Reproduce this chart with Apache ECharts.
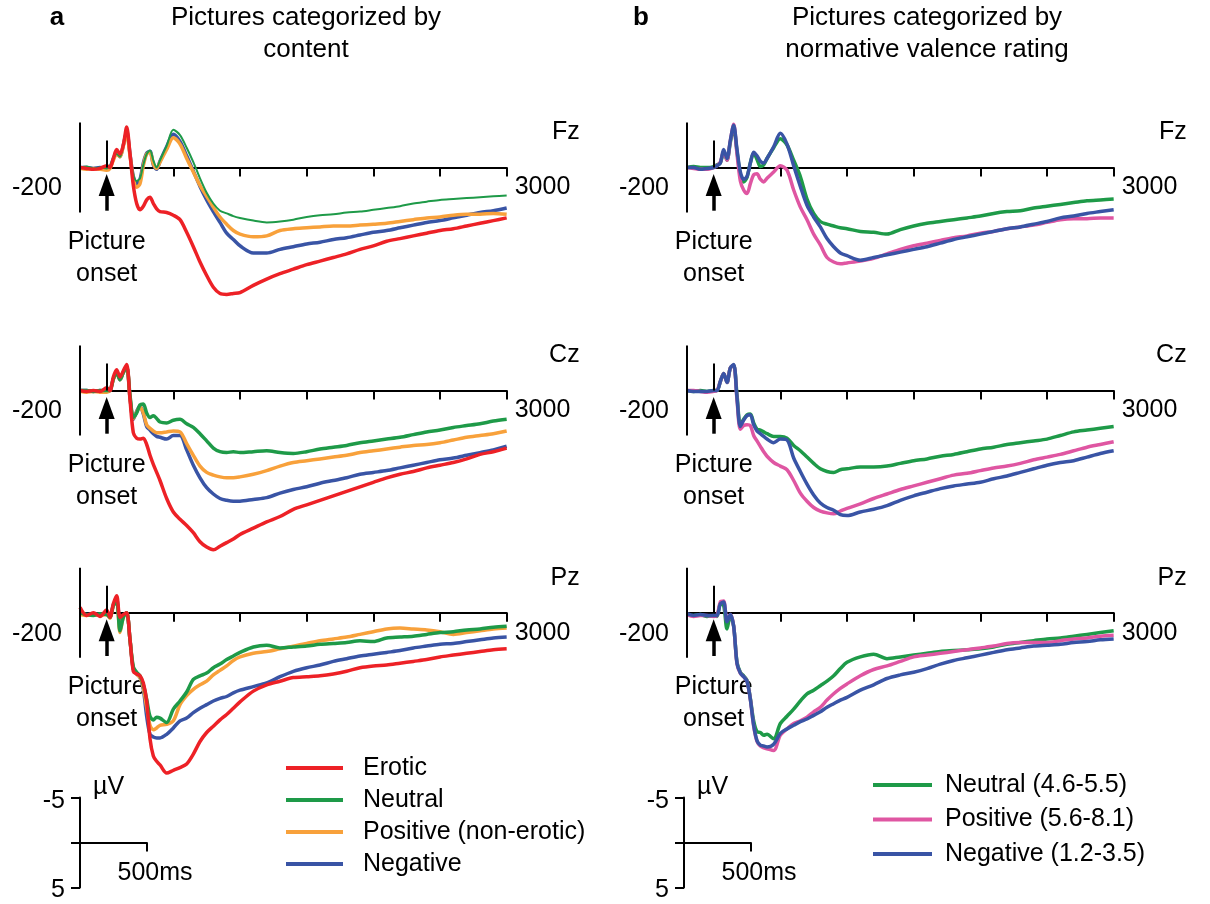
<!DOCTYPE html>
<html>
<head>
<meta charset="utf-8">
<script src="https://cdn.jsdelivr.net/npm/echarts@6/dist/echarts.min.js"></script>
<style>
  html, body { margin: 0; padding: 0; background: #fff; }
  #main { width: 1210px; height: 904px; }
</style>
</head>
<body>
<div id="main"></div>
<script>
var myChart = echarts.init(document.getElementById('main'))

// time axis (ms), shared by every curve
var times = [-200, -150, -100, -50, 0,
  25, 50, 75, 100, 125, 150, 175, 200, 225, 250, 275, 300, 325, 350, 375, 400,
  450, 500, 550, 600, 650, 700, 750, 800, 850, 900, 950, 1000,
  1100, 1200, 1300, 1400, 1500, 1600, 1700, 1800, 1900, 2000, 2100, 2200, 2300, 2400, 2500, 2600, 2700, 2800, 2900, 3000]

// panel a : by content (µV)
var eroticFz = [0, 0.1, 0.2, 0.1, -0.2,
  0, -1.0, -2.0, -1.5, -2.5, -4.5, -1.5, 2.0, 4.0, 4.7, 4.3, 3.6, 3.3, 4.0, 4.6, 4.9,
  5.0, 5.3, 5.8, 7.2, 8.8, 10.5, 12.0, 13.3, 14.0, 14.1, 14.0, 13.9,
  13.1, 12.4, 11.8, 11.3, 10.8, 10.4, 10.0, 9.6, 9.1, 8.7, 8.2, 7.9, 7.6, 7.3, 7.0, 6.8, 6.5, 6.2, 5.9, 5.6]
var neutralFz = [0, -0.1, 0.1, 0, 0.1,
  -0.2, -1.0, -1.5, -1.2, -2.5, -4.0, -1.5, 0.8, 1.5, 1.2, -0.3, -1.5, -1.9, -0.8, 0, -0.8,
  -2.4, -4.2, -3.6, -2.2, -0.6, 1.2, 2.8, 4.0, 4.8, 5.1, 5.4, 5.6,
  5.9, 6.1, 6.0, 5.8, 5.5, 5.3, 5.2, 5.0, 4.9, 4.7, 4.5, 4.3, 4.0, 3.8, 3.6, 3.5, 3.4, 3.3, 3.2, 3.1]
var positiveFz = [0.1, 0.2, 0.1, 0.2, 0.3,
  0.1, -0.8, -1.5, -1.2, -2.4, -3.8, -1.3, 1.2, 2.2, 1.8, -0.2, -1.5, -1.7, -0.4, 0.1, -0.6,
  -2.0, -3.3, -2.6, -1.0, 0.5, 2.0, 3.2, 4.4, 5.5, 6.3, 7.0, 7.4,
  7.7, 7.6, 7.0, 6.8, 6.7, 6.6, 6.5, 6.5, 6.4, 6.3, 6.2, 6.0, 5.8, 5.6, 5.5, 5.3, 5.2, 5.2, 5.1, 5.2]
var negativeFz = [0, 0, 0.1, 0, 0.1,
  0, -1.0, -1.6, -1.2, -2.5, -4.0, -1.5, 1.0, 1.8, 1.3, -0.5, -1.6, -1.8, -0.3, 0.2, -0.7,
  -2.3, -3.7, -2.9, -1.3, 0.4, 2.1, 3.6, 4.9, 6.1, 7.3, 8.0, 8.7,
  9.5, 9.5, 9.1, 8.8, 8.5, 8.3, 8.0, 7.8, 7.5, 7.2, 7.0, 6.7, 6.4, 6.1, 5.9, 5.6, 5.3, 5.0, 4.8, 4.5]

var eroticCz = [0, 0.1, 0, 0.1, -0.3,
  0, -1.5, -2.3, -1.5, -2.2, -2.9, 1.0, 4.7, 5.3, 5.4, 5.3, 6.0, 7.2, 8.2, 9.1, 10.0,
  12.0, 13.5, 14.3, 15.0, 15.8, 16.8, 17.4, 17.7, 17.3, 16.9, 16.5, 16.0,
  15.3, 14.6, 14.0, 13.2, 12.7, 12.2, 11.7, 11.2, 10.7, 10.2, 9.7, 9.3, 9.0, 8.6, 8.3, 8.0, 7.6, 7.1, 6.8, 6.4]
var neutralCz = [0, 0, 0.1, 0, 0,
  0, -1.3, -2.0, -1.2, -2.0, -2.6, 0.5, 3.0, 2.5, 1.6, 1.5, 2.5, 3.0, 2.8, 3.1, 3.5,
  3.6, 3.3, 3.2, 3.7, 4.1, 4.8, 5.6, 6.4, 6.8, 6.9, 6.8, 6.9,
  6.8, 6.7, 6.9, 7.0, 6.8, 6.5, 6.3, 6.1, 5.8, 5.6, 5.4, 5.2, 4.9, 4.6, 4.4, 4.1, 3.9, 3.7, 3.4, 3.2]
var positiveCz = [0.1, 0.2, 0.1, 0.2, 0.2,
  0, -1.2, -2.0, -1.2, -2.0, -2.6, 0.8, 3.1, 2.4, 1.8, 2.5, 3.8, 4.2, 4.5, 4.7, 4.7,
  4.6, 4.5, 4.6, 5.9, 7.2, 8.4, 9.1, 9.4, 9.6, 9.7, 9.7, 9.6,
  9.3, 8.9, 8.4, 8.0, 7.8, 7.6, 7.4, 7.2, 6.9, 6.7, 6.5, 6.3, 6.1, 6.0, 5.8, 5.5, 5.2, 5.0, 4.8, 4.5]
var negativeCz = [0, 0, 0.1, 0, 0.1,
  0, -1.3, -2.0, -1.2, -2.0, -2.6, 0.8, 3.2, 2.3, 1.7, 2.6, 4.0, 4.4, 4.8, 5.1, 5.2,
  5.4, 5.0, 5.0, 6.6, 8.3, 9.7, 10.8, 11.5, 12.0, 12.2, 12.3, 12.3,
  12.1, 11.9, 11.4, 11.0, 10.7, 10.3, 10.0, 9.7, 9.3, 9.1, 8.9, 8.6, 8.3, 8.0, 7.7, 7.5, 7.2, 6.9, 6.6, 6.2]

var eroticPz = [-0.6, 0.3, 0, 0.4, -0.3,
  0.5, -1.0, -1.9, 0.5, 0.2, 0, 3.0, 6.5, 6.8, 7.0, 7.8, 9.8, 14.0, 15.9, 16.5, 16.9,
  17.8, 17.5, 17.2, 16.8, 15.7, 14.3, 13.3, 12.6, 11.9, 11.3, 10.6, 9.9,
  8.7, 8.0, 7.6, 7.2, 7.1, 7.0, 6.8, 6.5, 6.1, 5.9, 5.8, 5.6, 5.4, 5.2, 4.9, 4.7, 4.5, 4.3, 4.1, 4.0]
var neutralPz = [0, 0.2, 0.3, 0.1, 0.2,
  0.5, -0.8, -1.2, 2.0, 0.5, 0, 3.0, 6.0, 6.6, 7.0, 8.0, 9.6, 11.5, 11.9, 11.6, 11.7,
  12.2, 10.7, 9.8, 8.8, 7.4, 7.0, 6.7, 6.1, 5.7, 5.2, 4.8, 4.4,
  3.8, 3.6, 3.9, 3.8, 3.7, 3.5, 3.4, 3.3, 3.1, 3.2, 2.8, 2.7, 2.6, 2.4, 2.2, 2.1, 1.9, 1.8, 1.6, 1.5]
var positivePz = [0.2, 0.3, 0.2, 0.3, 0.2,
  0.6, -0.8, -1.3, 2.2, 0.5, 0, 3.0, 6.2, 6.8, 7.2, 8.3, 10.5, 12.5, 13.0, 12.8, 12.5,
  12.4, 12.0, 10.2, 9.2, 8.5, 8.0, 7.6, 6.9, 6.4, 5.9, 5.3, 4.9,
  4.5, 4.3, 4.0, 3.7, 3.4, 3.1, 2.9, 2.7, 2.4, 2.1, 1.8, 1.7, 1.8, 1.9, 2.1, 2.4, 2.2, 2.0, 1.8, 1.7]
var negativePz = [0, 0.2, 0.1, 0.2, 0.1,
  0.5, -0.9, -1.5, 1.0, 0.3, 0, 3.0, 6.3, 6.8, 7.2, 8.5, 11.5, 13.5, 13.8, 13.9, 13.9,
  13.5, 12.8, 12.0, 11.7, 11.1, 10.6, 10.2, 9.8, 9.5, 9.3, 8.9, 8.6,
  8.2, 7.8, 7.1, 6.5, 6.1, 5.8, 5.4, 5.1, 4.8, 4.6, 4.4, 4.2, 3.9, 3.7, 3.5, 3.4, 3.2, 3.0, 2.8, 2.7]

// panel b : by normative valence rating (µV)
var valNeutralFz = [0, -0.1, 0, 0, -0.1,
  -0.3, -0.5, -1.7, -0.8, -2.8, -4.4, -1.8, 0.8, 1.6, 1.1, -0.5, -1.6, -0.9, -0.1, -0.3, -1.0,
  -2.2, -3.2, -2.5, -0.8, 1.0, 3.5, 5.1, 6.0, 6.3, 6.5, 6.7, 6.8,
  7.1, 7.2, 7.4, 6.9, 6.5, 6.2, 6.0, 5.8, 5.6, 5.4, 5.1, 4.9, 4.8, 4.5, 4.3, 4.1, 3.9, 3.7, 3.6, 3.5]
var valPositiveFz = [0, 0.1, 0.2, 0.2, 0,
  -0.2, -0.6, -1.8, -0.8, -3.0, -4.8, -1.5, 1.5, 2.5, 2.9, 1.8, 0.8, 0.7, 1.3, 1.6, 1.2,
  0.5, -0.2, 0.3, 2.5, 4.4, 5.8, 7.4, 8.6, 10.0, 10.5, 10.7, 10.6,
  10.4, 10.1, 9.6, 9.1, 8.7, 8.4, 8.1, 7.8, 7.6, 7.3, 7.1, 6.8, 6.6, 6.4, 6.1, 5.8, 5.7, 5.7, 5.6, 5.6]
var valNegativeFz = [0, 0, 0.2, 0.1, 0,
  -0.2, -0.5, -2.0, -1.0, -3.0, -4.7, -2.0, 0.5, 1.3, 1.0, -0.5, -1.7, -1.3, -0.7, -0.5, -1.0,
  -2.3, -3.8, -2.6, -0.2, 2.1, 4.2, 5.5, 6.6, 7.9, 8.8, 9.5, 9.8,
  10.3, 10.0, 9.7, 9.4, 9.1, 8.8, 8.4, 8.0, 7.7, 7.4, 7.1, 6.8, 6.6, 6.3, 6.0, 5.6, 5.4, 5.1, 4.9, 4.7]

var valNeutralCz = [0, 0.1, 0, 0.1, 0,
  0, -1.0, -1.9, -0.9, -2.5, -2.8, 0.5, 3.8, 3.2, 2.7, 2.6, 3.6, 4.3, 4.4, 4.6, 4.8,
  5.1, 5.1, 5.3, 6.1, 6.7, 7.4, 8.1, 8.7, 9.0, 9.1, 8.8, 8.7,
  8.5, 8.5, 8.4, 8.1, 7.8, 7.6, 7.3, 7.1, 6.8, 6.5, 6.3, 6.0, 5.8, 5.6, 5.4, 5.0, 4.6, 4.4, 4.2, 4.0]
var valPositiveCz = [0, 0, 0.1, 0.2, 0.1,
  0, -1.0, -1.9, -0.9, -2.5, -2.8, 1.0, 4.3, 3.9, 3.8, 3.9, 5.0, 5.6, 6.2, 6.8, 7.3,
  8.0, 8.4, 8.8, 10.0, 11.4, 12.3, 13.0, 13.4, 13.6, 13.7, 13.4, 13.1,
  12.6, 12.0, 11.5, 11.0, 10.6, 10.2, 9.8, 9.4, 9.2, 8.9, 8.6, 8.4, 8.1, 7.7, 7.4, 7.1, 6.7, 6.3, 6.0, 5.7]
var valNegativeCz = [0, 0.1, 0.1, 0.1, 0,
  0, -1.0, -1.9, -0.9, -2.5, -2.9, 0.8, 4.0, 3.3, 2.8, 2.7, 3.8, 4.5, 4.8, 5.1, 5.4,
  5.8, 5.4, 5.5, 7.5, 9.0, 10.4, 11.6, 12.5, 13.0, 13.3, 13.8, 13.9,
  13.5, 13.2, 12.8, 12.2, 11.7, 11.3, 10.9, 10.6, 10.4, 10.2, 9.8, 9.5, 9.1, 8.7, 8.3, 8.0, 7.8, 7.4, 7.0, 6.7]

var valNeutralPz = [0.2, 0.3, 0.2, 0.4, 0.3,
  0.4, -1.0, -0.8, 1.8, 0.3, 1.5, 5.5, 6.6, 7.0, 7.5, 9.5, 12.0, 13.2, 13.3, 13.6, 13.5,
  14.0, 12.3, 11.5, 10.7, 9.8, 9.0, 8.6, 8.1, 7.6, 7.0, 6.2, 5.5,
  4.9, 4.6, 5.1, 4.9, 4.7, 4.5, 4.3, 4.2, 4.1, 4.0, 3.8, 3.5, 3.3, 3.1, 2.9, 2.8, 2.6, 2.4, 2.2, 2.0]
var valPositivePz = [0.2, 0.4, 0.3, 0.3, 0.4,
  0.3, -1.2, -1.3, 0.9, 0.2, 1.5, 5.7, 6.7, 7.1, 7.6, 9.6, 12.6, 14.3, 14.8, 15.0, 15.1,
  15.3, 13.6, 12.9, 12.3, 12.0, 11.6, 11.0, 10.5, 9.7, 9.0, 8.4, 7.9,
  7.0, 6.3, 5.9, 5.4, 4.9, 4.7, 4.5, 4.3, 4.1, 3.9, 3.7, 3.4, 3.3, 3.3, 3.3, 3.1, 2.9, 2.8, 2.6, 2.5]
var valNegativePz = [0.1, 0.3, 0.2, 0.3, 0.3,
  0.3, -1.0, -1.2, 1.0, 0.2, 1.5, 5.6, 6.7, 7.1, 7.6, 9.6, 12.5, 14.2, 14.7, 14.8, 14.9,
  14.6, 13.4, 12.9, 12.5, 12.1, 11.8, 11.4, 11.0, 10.5, 10.1, 9.7, 9.4,
  8.6, 8.0, 7.3, 6.9, 6.6, 6.2, 5.7, 5.3, 5.0, 4.7, 4.4, 4.1, 3.9, 3.7, 3.6, 3.5, 3.3, 3.2, 3.0, 2.9]

var xTicks = [500, 1000, 1500, 2000, 2500, 3000]
var channels = ['Fz', 'Cz', 'Pz']
var contentNames = ['Erotic', 'Neutral', 'Positive (non-erotic)', 'Negative']
var valenceNames = ['Neutral (4.6-5.5)', 'Positive (5.6-8.1)', 'Negative (1.2-3.5)']

// layout
var FONT = "'Liberation Sans', Arial, sans-serif"
var panelLeft = [80, 687]
var scaleLeft = [80, 684]
var zeroY = [167.5, 390.5, 612.8]
var panelW = 426.67 // 3200 ms
var pxPerUv = 9
var yMin = -6
var yMax = 20
var pxPerMs = panelW / 3200

var colors = {
  red: '#ED2126',
  green: '#1E9A48',
  orange: '#F8A13B',
  blue: '#3954A5',
  pink: '#DF56A2'
}

function zip(vals) {
  return times.map(function(t, i) {
    return [t, vals[i]]
  })
}

var grids = []
var xAxes = []
var yAxes = []
var series = []
var graphics = []

function txt(text, x, y, align, vAlign, extra) {
  var style = {
    text: text,
    x: x,
    y: y,
    fill: '#000',
    font: '25px ' + FONT,
    align: align,
    verticalAlign: vAlign
  }
  for (var k in extra) style[k] = extra[k]
  graphics.push({ type: 'text', silent: true, style: style })
}

// panels
var curves = [
  // column a
  [
    [
      { name: 'Negative', data: negativeFz, color: colors.blue },
      { name: 'Positive (non-erotic)', data: positiveFz, color: colors.orange },
      { name: 'Neutral', data: neutralFz, color: colors.green, width: 2 },
      { name: 'Erotic', data: eroticFz, color: colors.red }
    ],
    [
      { name: 'Negative', data: negativeCz, color: colors.blue },
      { name: 'Positive (non-erotic)', data: positiveCz, color: colors.orange },
      { name: 'Neutral', data: neutralCz, color: colors.green },
      { name: 'Erotic', data: eroticCz, color: colors.red }
    ],
    [
      { name: 'Negative', data: negativePz, color: colors.blue },
      { name: 'Positive (non-erotic)', data: positivePz, color: colors.orange },
      { name: 'Neutral', data: neutralPz, color: colors.green },
      { name: 'Erotic', data: eroticPz, color: colors.red }
    ]
  ],
  // column b
  [
    [
      { name: 'Neutral (4.6-5.5)', data: valNeutralFz, color: colors.green },
      { name: 'Positive (5.6-8.1)', data: valPositiveFz, color: colors.pink },
      { name: 'Negative (1.2-3.5)', data: valNegativeFz, color: colors.blue }
    ],
    [
      { name: 'Neutral (4.6-5.5)', data: valNeutralCz, color: colors.green },
      { name: 'Positive (5.6-8.1)', data: valPositiveCz, color: colors.pink },
      { name: 'Negative (1.2-3.5)', data: valNegativeCz, color: colors.blue }
    ],
    [
      { name: 'Neutral (4.6-5.5)', data: valNeutralPz, color: colors.green },
      { name: 'Positive (5.6-8.1)', data: valPositivePz, color: colors.pink },
      { name: 'Negative (1.2-3.5)', data: valNegativePz, color: colors.blue }
    ]
  ]
]

var stub = 9 / pxPerMs // bracket stub length in ms

for (var c = 0; c < 2; c++) {
  for (var r = 0; r < 3; r++) {
    var gi = grids.length
    grids.push({
      left: panelLeft[c],
      top: zeroY[r] + yMin * pxPerUv,
      width: panelW,
      height: (yMax - yMin) * pxPerUv,
      outerBoundsMode: 'none'
    })
    xAxes.push({
      gridIndex: gi,
      type: 'value',
      min: -200,
      max: 3000,
      axisLine: { onZero: true, lineStyle: { color: '#000', width: 2 } },
      axisTick: { show: true, customValues: xTicks, length: 9, lineStyle: { color: '#000', width: 2 } },
      axisLabel: { show: false },
      splitLine: { show: false }
    })
    yAxes.push({
      gridIndex: gi,
      type: 'value',
      inverse: true,
      min: yMin,
      max: yMax,
      axisLine: { show: false },
      axisTick: { show: false },
      axisLabel: { show: false },
      splitLine: { show: false }
    })

    curves[c][r].forEach(function(s) {
      series.push({
        name: s.name,
        type: 'line',
        xAxisIndex: gi,
        yAxisIndex: gi,
        data: zip(s.data),
        symbol: 'none',
        smooth: 0.3,
        clip: false,
        silent: true,
        itemStyle: { color: s.color },
        lineStyle: { color: s.color, width: s.width || 3.5 }
      })
    })

    // µV bracket, onset marker and arrow
    series.push({
      type: 'line',
      xAxisIndex: gi,
      yAxisIndex: gi,
      data: [[-200, -5], [-200, 5]],
      symbol: 'none',
      clip: false,
      silent: true,
      z: 5,
      lineStyle: { color: '#000', width: 2 },
      markLine: {
        silent: true,
        symbol: 'none',
        label: { show: false },
        lineStyle: { color: '#000', width: 2, type: 'solid' },
        data: [
          [{ coord: [-200 - stub, -5] }, { coord: [-200, -5] }],
          [{ coord: [-200 - stub, 0] }, { coord: [-200, 0] }],
          [{ coord: [-200 - stub, 5] }, { coord: [-200, 5] }],
          [{ coord: [0, -3] }, { coord: [0, 0] }],
          [{ coord: [0, 2.4], lineStyle: { width: 3.5 } }, { coord: [0, 4.8] }]
        ]
      },
      markPoint: {
        silent: true,
        symbol: 'triangle',
        symbolSize: [16, 22],
        itemStyle: { color: '#000' },
        label: { show: false },
        data: [{ coord: [0, 1.95] }]
      }
    })

    // texts around the panel
    var x0 = panelLeft[c]
    var x1 = x0 + panelW
    var y0 = zeroY[r]
    txt('-200', x0 - 18, y0 + 21, 'right', 'middle')
    txt('3000', x1 + 8, y0 + 20, 'left', 'middle')
    txt(channels[r], x1 + 73, y0 - 35, 'right', 'middle')
    txt('Picture\nonset', x0 + 200 * pxPerMs, y0 + 90.5, 'center', 'middle', { lineHeight: 32 })
  }
}

// scale bars (500 ms x 5 µV)
for (var c2 = 0; c2 < 2; c2++) {
  var gs = grids.length
  grids.push({
    left: scaleLeft[c2],
    top: 797.5,
    width: 500 * pxPerMs,
    height: 10 * pxPerUv,
    outerBoundsMode: 'none'
  })
  xAxes.push({
    gridIndex: gs,
    type: 'value',
    min: 0,
    max: 500,
    axisLine: { onZero: true, lineStyle: { color: '#000', width: 2 } },
    axisTick: { customValues: [500], length: 9, lineStyle: { color: '#000', width: 2 } },
    axisLabel: { show: false },
    splitLine: { show: false }
  })
  yAxes.push({
    gridIndex: gs,
    type: 'value',
    inverse: true,
    min: -5,
    max: 5,
    axisLine: { show: true, onZero: true, lineStyle: { color: '#000', width: 2 } },
    axisTick: { customValues: [-5, 0, 5], length: 9, lineStyle: { color: '#000', width: 2 } },
    axisLabel: { show: false },
    splitLine: { show: false }
  })
  txt('-5', scaleLeft[c2] - 15, 801, 'right', 'middle')
  txt('5', scaleLeft[c2] - 15, 890, 'right', 'middle')
  txt('µV', scaleLeft[c2] + 13, 787, 'left', 'middle')
  txt('500ms', scaleLeft[c2] + 75, 873, 'center', 'middle')
}

// titles
txt('a', 57, 18, 'center', 'middle', { font: 'bold 26px ' + FONT })
txt('b', 641, 18, 'center', 'middle', { font: 'bold 26px ' + FONT })
txt('Pictures categorized by', 306, 18, 'center', 'middle', { font: '26px ' + FONT })
txt('content', 306, 50, 'center', 'middle', { font: '26px ' + FONT })
txt('Pictures categorized by', 927, 18, 'center', 'middle', { font: '26px ' + FONT })
txt('normative valence rating', 927, 50, 'center', 'middle', { font: '26px ' + FONT })

function legendText(padLeft) {
  return {
    color: '#000',
    fontSize: 25,
    fontFamily: FONT,
    lineHeight: 32,
    padding: [0, 0, 0, padLeft]
  }
}

var option = {
  animation: false,
  backgroundColor: '#fff',
  grid: grids,
  xAxis: xAxes,
  yAxis: yAxes,
  legend: [
    {
      data: contentNames,
      orient: 'vertical',
      left: 286,
      top: 752,
      padding: 0,
      itemGap: 0,
      itemWidth: 57,
      itemHeight: 4,
      icon: 'rect',
      selectedMode: false,
      textStyle: legendText(15)
    },
    {
      data: valenceNames,
      orient: 'vertical',
      left: 873,
      top: 769,
      padding: 0,
      itemGap: 2.5,
      itemWidth: 59,
      itemHeight: 4,
      icon: 'rect',
      selectedMode: false,
      textStyle: legendText(8)
    }
  ],
  graphic: graphics,
  series: series
}

myChart.setOption(option)
window.onresize = function() {
  myChart.resize()
}
</script>
</body>
</html>
